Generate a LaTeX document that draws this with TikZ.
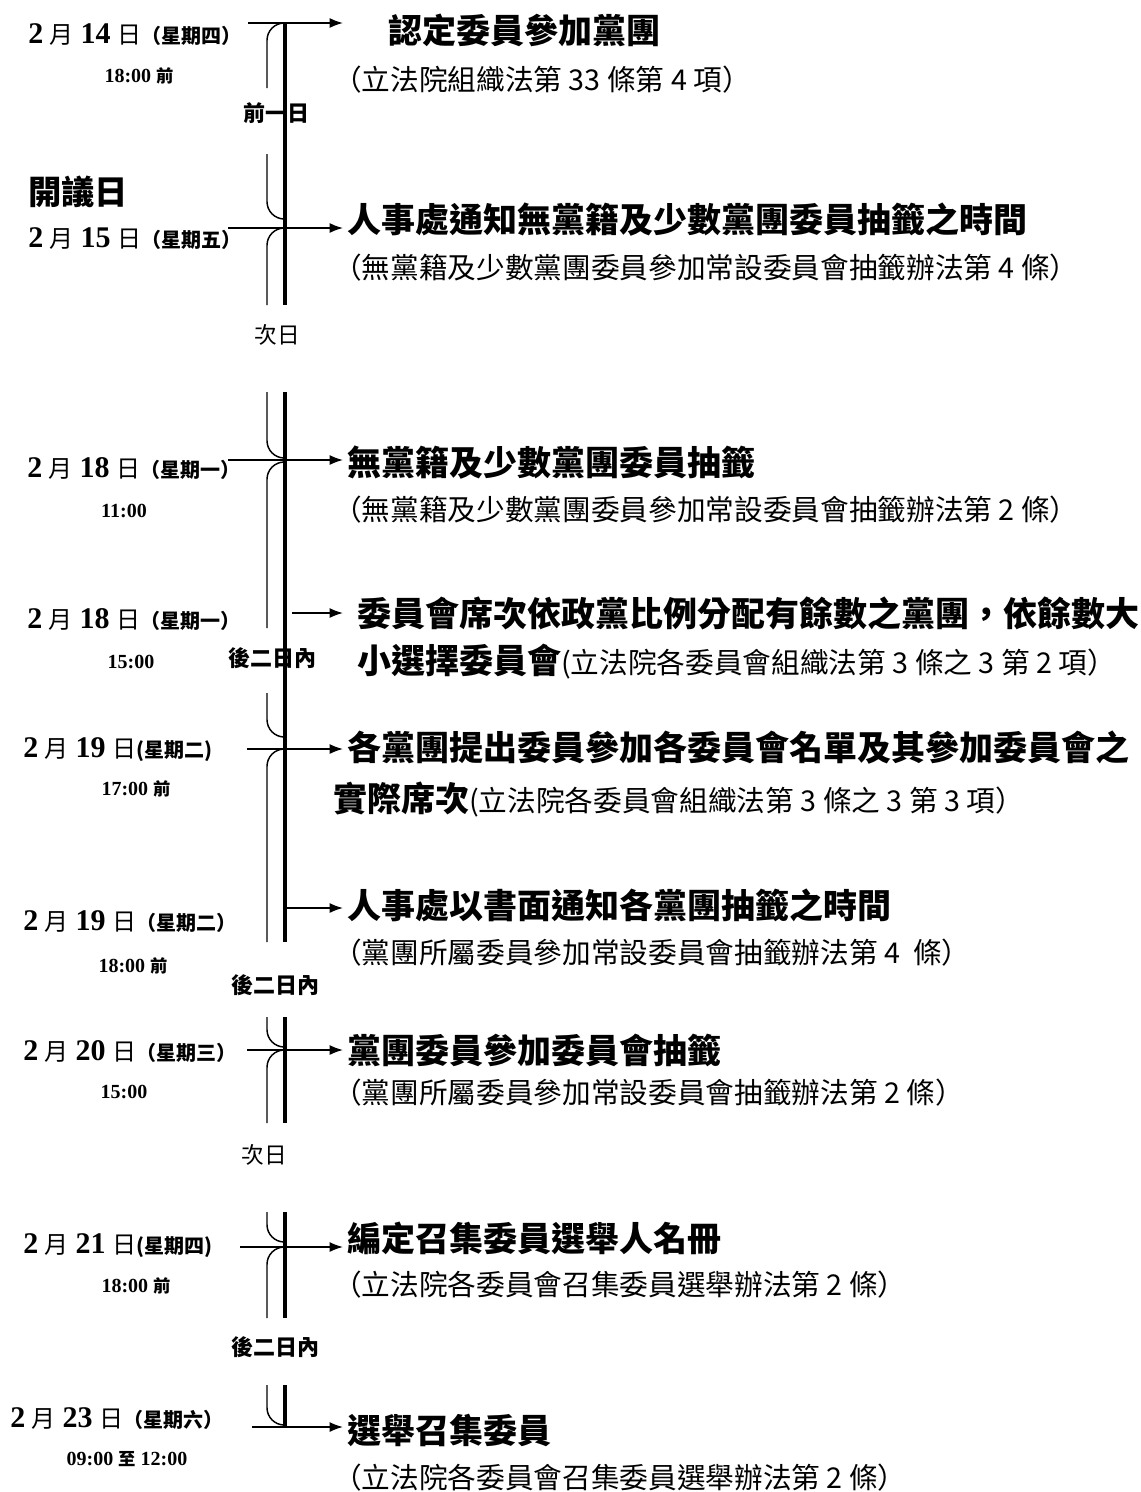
\documentclass[tikz,border=0pt]{standalone}
\usepackage{fontspec}
\setmainfont{Liberation Serif}
\newfontfamily\cjk{Noto Sans CJK TC}
\newfontfamily\tms{Liberation Serif}
\usetikzlibrary{arrows.meta}

\newcommand{\daytext}[3]{%
  {\tms\bfseries\fontsize{22.5}{26}\selectfont #1}\hspace{5pt}%
  {\cjk\fontsize{18}{22}\selectfont 月}\hspace{5pt}%
  {\tms\bfseries\fontsize{22.5}{26}\selectfont #2}\hspace{5pt}%
  {\cjk\fontsize{18}{22}\selectfont 日}%
  {\cjk\bfseries\fontsize{15}{18}\selectfont #3}}
\newcommand{\smallcjk}[1]{{\cjk\bfseries\fontsize{13}{16}\selectfont #1}}

\tikzset{
  spine/.style={line width=2.6pt},
  brace/.style={line width=1.1pt, rounded corners=13pt},
  tick/.style={line width=1.2pt, -{Latex[length=10pt,width=7.5pt]}},
  datelbl/.style={anchor=base west, inner sep=0pt},
  timelbl/.style={anchor=base, inner sep=0pt, font=\tms\bfseries\fontsize{15}{18}\selectfont},
  headlbl/.style={anchor=west, inner sep=0pt, font=\cjk\bfseries\fontsize{25.5}{30}\selectfont},
  lawlbl/.style={anchor=west, inner sep=0pt, font=\cjk\fontsize{21.5}{26}\selectfont},
  gaplbl/.style={inner sep=0pt, font=\cjk\bfseries\fontsize{16.5}{20}\selectfont},
  nextlbl/.style={inner sep=0pt, font=\cjk\fontsize{17}{20}\selectfont},
}

\begin{document}
\begin{tikzpicture}[x=0.75pt, y=-0.75pt]
\useasboundingbox (0,0) rectangle (1141,1492);

% dates and times
\node[datelbl] (d1) at (28,43) {\daytext{2}{14}{（星期四）}};
\node[timelbl] (t1) at (139,82) {18:00 \smallcjk{前}};
\node[anchor=west, inner sep=0pt, font=\cjk\bfseries\fontsize{25}{30}\selectfont] (kaiyi) at (28,192) {開議日};
\node[datelbl] (d2) at (28,247) {\daytext{2}{15}{（星期五）}};
\node[datelbl] (d3) at (27,477) {\daytext{2}{18}{（星期一）}};
\node[timelbl] (t3) at (124,517) {11:00};
\node[datelbl] (d4) at (27,628) {\daytext{2}{18}{（星期一）}};
\node[timelbl] (t4) at (131,668) {15:00};
\node[datelbl] (d5) at (23,757) {\daytext{2}{19}{(星期二)}};
\node[timelbl] (t5) at (136,795) {17:00 \smallcjk{前}};
\node[datelbl] (d6) at (23,930) {\daytext{2}{19}{（星期二）}};
\node[timelbl] (t6) at (133,972) {18:00 \smallcjk{前}};
\node[datelbl] (d7) at (23,1060) {\daytext{2}{20}{（星期三）}};
\node[timelbl] (t7) at (124,1098) {15:00};
\node[datelbl] (d8) at (23,1253) {\daytext{2}{21}{(星期四)}};
\node[timelbl] (t8) at (136,1292) {18:00 \smallcjk{前}};
\node[datelbl] (d9) at (10,1427) {\daytext{2}{23}{（星期六）}};
\node[timelbl] (t9) at (127,1465) {09:00 \smallcjk{至} 12:00};

% intervals
\node[gaplbl] (qyr) at (276,113) {前一日};
\node[nextlbl] (cr1) at (277,335) {次日};
\node[gaplbl] (hr1) at (272,658) {後二日內};
\node[gaplbl] (hr2) at (275,985) {後二日內};
\node[nextlbl] (cr2) at (264,1155) {次日};
\node[gaplbl] (hr3) at (275,1347) {後二日內};

% steps
\node[headlbl] (h1) at (388,30) {認定委員參加黨團};
\node[lawlbl] (s1) at (333,80) {（立法院組織法第 33 條第 4 項）};
\node[headlbl] (h2) at (347,220) {人事處通知無黨籍及少數黨團委員抽籤之時間};
\node[lawlbl] (s2) at (333,268) {（無黨籍及少數黨團委員參加常設委員會抽籤辦法第 4 條）};
\node[headlbl] (h3) at (347,463) {無黨籍及少數黨團委員抽籤};
\node[lawlbl] (s3) at (333,510) {（無黨籍及少數黨團委員參加常設委員會抽籤辦法第 2 條）};
\node[headlbl] (h4) at (357,613) {委員會席次依政黨比例分配有餘數之黨團，依餘數大};
\node[headlbl] (h4b) at (357,662) {小選擇委員會{\mdseries\fontsize{21.5}{26}\selectfont (立法院各委員會組織法第 3 條之 3 第 2 項）}};
\node[headlbl] (h5) at (347,748) {各黨團提出委員參加各委員會名單及其參加委員會之};
\node[headlbl] (h5b) at (333,800) {實際席次{\mdseries\fontsize{21.5}{26}\selectfont (立法院各委員會組織法第 3 條之 3 第 3 項）}};
\node[headlbl] (h6) at (347,905) {人事處以書面通知各黨團抽籤之時間};
\node[lawlbl] (s6) at (333,953) {（黨團所屬委員參加常設委員會抽籤辦法第 4\ \ 條）};
\node[headlbl] (h7) at (347,1050) {黨團委員參加委員會抽籤};
\node[lawlbl] (s7) at (333,1093) {（黨團所屬委員參加常設委員會抽籤辦法第 2 條）};
\node[headlbl] (h8) at (347,1238) {編定召集委員選舉人名冊};
\node[lawlbl] (s8) at (333,1285) {（立法院各委員會召集委員選舉辦法第 2 條）};
\node[headlbl] (h9) at (347,1430) {選舉召集委員};
\node[lawlbl] (s9) at (333,1478) {（立法院各委員會召集委員選舉辦法第 2 條）};

% time line
\draw[spine] (285,23) -- (285,305);
\draw[spine] (285,392) -- (285,942);
\draw[spine] (285,1017) -- (285,1123);
\draw[spine] (285,1212) -- (285,1318);
\draw[spine] (285,1385) -- (285,1427);

\draw[brace] (285,23) -| (267,88);
\draw[brace] (267,154) |- (285,219);
\draw[brace] (285,228) -| (267,305);
\draw[brace] (267,392) |- (285,458);
\draw[brace] (285,462) -| (267,628);
\draw[brace] (267,693) |- (285,737);
\draw[brace] (285,749) -| (267,942);
\draw[brace] (267,1017) |- (285,1047);
\draw[brace] (285,1050) -| (267,1123);
\draw[brace] (267,1212) |- (285,1242);
\draw[brace] (285,1247) -| (267,1318);
\draw[brace] (267,1385) |- (285,1425);

% arrows
\coordinate (stem) at (343,0);
\coordinate (a1) at (248,23);
\coordinate (a2) at (228,228);
\coordinate (a3) at (228,460);
\coordinate (a4) at (292,613);
\coordinate (a5) at (247,749);
\coordinate (a6) at (287,908);
\coordinate (a7) at (247,1050);
\coordinate (a8) at (240,1247);
\coordinate (a9) at (252,1427);
\draw[tick] (a1) -- (a1 -| stem);
\draw[tick] (a2) -- (a2 -| stem);
\draw[tick] (a3) -- (a3 -| stem);
\draw[tick] (a4) -- (a4 -| stem);
\draw[tick] (a5) -- (a5 -| stem);
\draw[tick] (a6) -- (a6 -| stem);
\draw[tick] (a7) -- (a7 -| stem);
\draw[tick] (a8) -- (a8 -| stem);
\draw[tick] (a9) -- (a9 -| stem);
\end{tikzpicture}
\end{document}
